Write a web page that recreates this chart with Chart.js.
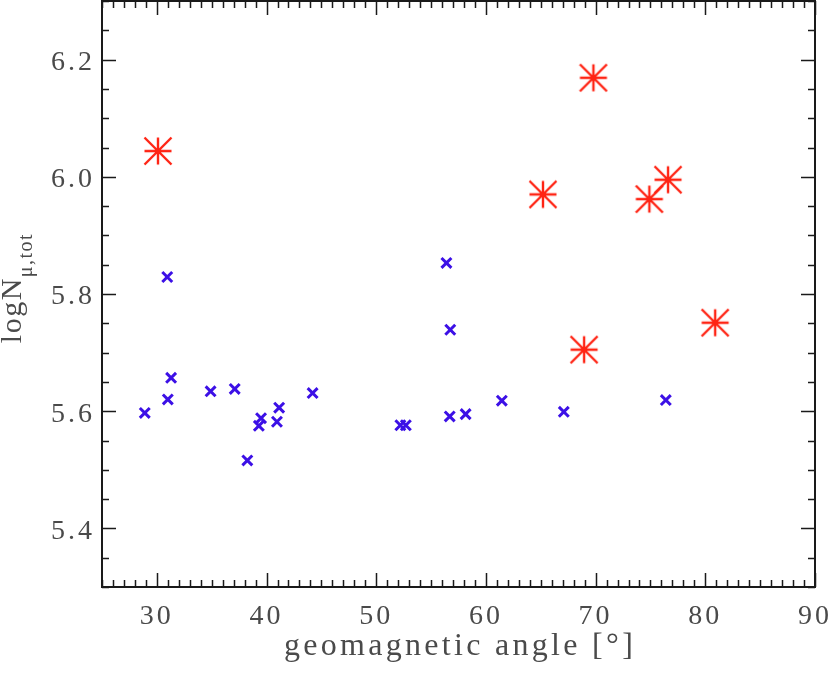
<!DOCTYPE html>
<html>
<head>
<meta charset="utf-8">
<script src="https://cdn.jsdelivr.net/npm/chart.js@4/dist/chart.umd.min.js"></script>
<style>
    body { margin: 0; background: #fff; }
    canvas { display: block; }
</style>
</head>
<body>
<canvas id="myChart" width="830" height="674"></canvas>
<script>
// blue crosses: geomagnetic angle [deg] vs logN
const crossAngle = [28.9, 30.95, 31.0, 31.3, 34.9, 37.1, 38.25, 39.3, 39.5, 40.95, 41.15, 44.2, 52.2, 52.7, 56.4, 56.75, 56.7, 58.15, 61.45, 67.1, 76.4];
const crossLogN = [5.597, 5.829, 5.620, 5.657, 5.634, 5.638, 5.516, 5.575, 5.588, 5.582, 5.606, 5.631, 5.576, 5.576, 5.853, 5.739, 5.591, 5.595, 5.618, 5.599, 5.619];
// red asterisks
const starAngle = [30.1, 65.2, 68.95, 69.8, 74.9, 76.6, 80.9];
const starLogN = [6.044, 5.970, 5.705, 6.169, 5.962, 5.995, 5.751];

const xTicks = [30, 40, 50, 60, 70, 80, 90];
const yTicks = [5.4, 5.6, 5.8, 6.0, 6.2];

const xTitle = 'geomagnetic angle [\u00b0]';
const yTitle = 'logN';
const yTitleSub = '\u03bc,tot';

const textColor = '#4a4a4a';
const fontFamily = '"Liberation Serif", "DejaVu Serif", serif';

// IDL style asterisk
function makeAsterisk(size, color) {
    let c = document.createElement('canvas');
    c.width = size;
    c.height = size;
    let g = c.getContext('2d');
    let m = size / 2, r = size / 2 - 1.5;
    g.strokeStyle = color;
    g.lineWidth = 2.4;
    g.beginPath();
    g.moveTo(m - r, m); g.lineTo(m + r, m);
    g.moveTo(m, m - r); g.lineTo(m, m + r);
    g.moveTo(m - r, m - r); g.lineTo(m + r, m + r);
    g.moveTo(m - r, m + r); g.lineTo(m + r, m - r);
    g.stroke();
    return c;
}

function toPoints(xs, ys) {
    let pts = [];
    for (let i = 0; i < xs.length; i++) {
        pts.push({ x: xs[i], y: ys[i] });
    }
    return pts;
}

function noPadding(scale) {
    scale.paddingTop = 0;
    scale.paddingBottom = 0;
    scale.paddingLeft = 0;
    scale.paddingRight = 0;
}

const framePlugin = {
    id: 'frame',
    beforeDraw(chart) {
        chart.ctx.letterSpacing = '3px';
    },
    afterDraw(chart) {
        const ctx = chart.ctx;
        const a = chart.chartArea;
        const xs = chart.scales.x, ys = chart.scales.y;
        ctx.save();
        ctx.strokeStyle = '#1a1a1a';
        ctx.lineWidth = 1.5;
        ctx.beginPath();
        for (let i = 0; i <= 65; i++) {
            let v = 25 + i;
            let px = Math.round(xs.getPixelForValue(v)) + 0.5;
            let len = v % 10 === 0 ? 14 : 7;
            ctx.moveTo(px, a.bottom); ctx.lineTo(px, a.bottom - len);
            ctx.moveTo(px, a.top); ctx.lineTo(px, a.top + len);
        }
        for (let i = 0; i <= 20; i++) {
            let v = 5.3 + i * 0.05;
            let py = Math.round(ys.getPixelForValue(v)) + 0.5;
            let major = yTicks.some(t => Math.abs(t - v) < 1e-6);
            let len = major ? 14 : 7;
            ctx.moveTo(a.left, py); ctx.lineTo(a.left + len, py);
            ctx.moveTo(a.right, py); ctx.lineTo(a.right - len, py);
        }
        ctx.stroke();
        ctx.lineWidth = 2;
        ctx.strokeRect(a.left, a.top, a.right - a.left, a.bottom - a.top);

        ctx.fillStyle = textColor;
        ctx.textBaseline = 'alphabetic';

        // x axis title
        ctx.letterSpacing = '3.3px';
        ctx.font = '32px ' + fontFamily;
        ctx.textAlign = 'center';
        ctx.fillText(xTitle, (a.left + a.right) / 2 + 1.5, 655);

        // y axis title with subscript
        ctx.letterSpacing = '1.5px';
        ctx.textAlign = 'left';
        ctx.translate(0, 288);
        ctx.rotate(-Math.PI / 2);
        let mainFont = '30px ' + fontFamily;
        let subFont = '20px ' + fontFamily;
        ctx.font = mainFont;
        let w1 = ctx.measureText(yTitle).width;
        ctx.font = subFont;
        let w2 = ctx.measureText(yTitleSub).width;
        let start = -(w1 + w2) / 2;
        ctx.font = mainFont;
        ctx.fillText(yTitle, start, 21);
        ctx.font = subFont;
        ctx.fillText(yTitleSub, start + w1, 32);
        ctx.restore();
    }
};

const myChart = new Chart('myChart', {
    type: 'scatter',
    data: {
        datasets: [{
            label: 'crosses',
            data: toPoints(crossAngle, crossLogN),
            pointStyle: 'crossRot',
            radius: 7,
            borderWidth: 3,
            borderColor: '#3c10e6',
            backgroundColor: '#3c10e6'
        }, {
            label: 'asterisks',
            data: toPoints(starAngle, starLogN),
            pointStyle: makeAsterisk(30, '#ff2414'),
            radius: 15,
            borderColor: '#ff2414',
            backgroundColor: '#ff2414'
        }]
    },
    options: {
        responsive: false,
        animation: false,
        events: [],
        layout: { autoPadding: false, padding: { top: 1, right: 15, left: 0, bottom: 0 } },
        plugins: {
            legend: { display: false },
            tooltip: { enabled: false }
        },
        scales: {
            x: {
                type: 'linear',
                min: 25,
                max: 90,
                grid: { display: false, drawTicks: false },
                border: { display: false },
                afterFit(scale) { scale.height = 87; noPadding(scale); },
                afterBuildTicks(scale) { scale.ticks = xTicks.map(v => ({ value: v })); },
                ticks: {
                    padding: 13,
                    color: textColor,
                    maxRotation: 0,
                    autoSkip: false,
                    font: { family: fontFamily, size: 28 },
                    callback: v => String(v)
                }
            },
            y: {
                type: 'linear',
                min: 5.3,
                max: 6.3,
                grid: { display: false, drawTicks: false },
                border: { display: false },
                afterFit(scale) { scale.width = 102; noPadding(scale); },
                afterBuildTicks(scale) { scale.ticks = yTicks.map(v => ({ value: v })); },
                ticks: {
                    padding: 7,
                    labelOffset: 3,
                    color: textColor,
                    autoSkip: false,
                    font: { family: fontFamily, size: 28 },
                    callback: v => Number(v).toFixed(1)
                }
            }
        }
    },
    plugins: [framePlugin]
});
</script>
</body>
</html>
